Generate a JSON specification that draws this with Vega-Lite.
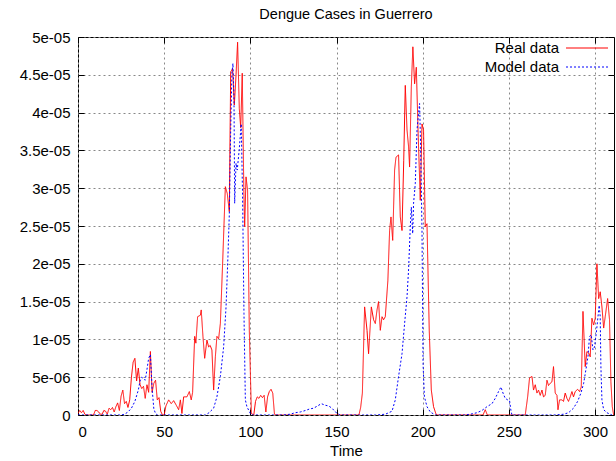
{
  "$schema": "https://vega.github.io/schema/vega-lite/v6.json",
  "width": 536,
  "height": 378,
  "autosize": {"type": "none"},
  "padding": {"left": 78, "top": 37, "right": 2, "bottom": 46},
  "background": "white",
  "title": {"text": "Dengue Cases in Guerrero", "font": "Liberation Sans", "fontSize": 14.5, "fontWeight": "normal", "color": "black", "anchor": "middle", "offset": 8},
  "config": {
    "view": {"stroke": "black", "strokeWidth": 1},
    "font": "Liberation Sans",
    "axis": {"labelFont": "Liberation Sans", "labelFontSize": 15, "labelColor": "black", "titleFont": "Liberation Sans", "titleFontSize": 15, "titleFontWeight": "normal", "titleColor": "black", "domain": false, "tickColor": "black", "tickSize": -6}
  },
  "data": {"values": [
    {"s":"Real data","t":0,"v":0.2e-6},{"s":"Real data","t":1,"v":0.6e-6},{"s":"Real data","t":2,"v":0.3e-6},{"s":"Real data","t":3,"v":0.6e-6},{"s":"Real data","t":4,"v":0.1e-6},{"s":"Real data","t":5,"v":0},{"s":"Real data","t":9,"v":0},{"s":"Real data","t":10,"v":0.6e-6},{"s":"Real data","t":11,"v":0.6e-6},{"s":"Real data","t":12,"v":0.4e-6},{"s":"Real data","t":13,"v":0.1e-6},{"s":"Real data","t":14,"v":0.1e-6},{"s":"Real data","t":15,"v":0.6e-6},{"s":"Real data","t":16,"v":0.5e-6},{"s":"Real data","t":17,"v":0.1e-6},{"s":"Real data","t":18,"v":0.9e-6},{"s":"Real data","t":19,"v":0.7e-6},{"s":"Real data","t":20,"v":1.0e-6},{"s":"Real data","t":21,"v":0.4e-6},{"s":"Real data","t":22,"v":1.1e-6},{"s":"Real data","t":23,"v":1.6e-6},{"s":"Real data","t":24,"v":0.6e-6},{"s":"Real data","t":25,"v":2.5e-6},{"s":"Real data","t":26,"v":3.3e-6},{"s":"Real data","t":27,"v":1.5e-6},{"s":"Real data","t":28,"v":1.8e-6},{"s":"Real data","t":29,"v":1.0e-6},{"s":"Real data","t":30,"v":2.0e-6},{"s":"Real data","t":31,"v":5.0e-6},{"s":"Real data","t":32,"v":7.0e-6},{"s":"Real data","t":33,"v":7.5e-6},{"s":"Real data","t":34,"v":4.5e-6},{"s":"Real data","t":35,"v":6.2e-6},{"s":"Real data","t":36,"v":4.0e-6},{"s":"Real data","t":37,"v":3.5e-6},{"s":"Real data","t":38,"v":3.8e-6},{"s":"Real data","t":39,"v":2.2e-6},{"s":"Real data","t":40,"v":4.0e-6},{"s":"Real data","t":41,"v":3.0e-6},{"s":"Real data","t":42,"v":8.4e-6},{"s":"Real data","t":43,"v":3.0e-6},{"s":"Real data","t":44,"v":4.2e-6},{"s":"Real data","t":45,"v":4.6e-6},{"s":"Real data","t":46,"v":2.0e-6},{"s":"Real data","t":47,"v":2.3e-6},{"s":"Real data","t":48,"v":0.5e-6},{"s":"Real data","t":49,"v":0},{"s":"Real data","t":50,"v":0},{"s":"Real data","t":51,"v":1.2e-6},{"s":"Real data","t":52.6,"v":2.0e-6},{"s":"Real data","t":54.1,"v":1.5e-6},{"s":"Real data","t":55.5,"v":1.9e-6},{"s":"Real data","t":57,"v":1.3e-6},{"s":"Real data","t":58.4,"v":0.7e-6},{"s":"Real data","t":59.4,"v":2.0e-6},{"s":"Real data","t":60.3,"v":0.2e-6},{"s":"Real data","t":61.3,"v":2.4e-6},{"s":"Real data","t":63.2,"v":2.4e-6},{"s":"Real data","t":64.6,"v":3.1e-6},{"s":"Real data","t":65.7,"v":2.0e-6},{"s":"Real data","t":66.5,"v":3.0e-6},{"s":"Real data","t":67.7,"v":10.4e-6},{"s":"Real data","t":68.4,"v":9.5e-6},{"s":"Real data","t":69.4,"v":13.0e-6},{"s":"Real data","t":71,"v":13.2e-6},{"s":"Real data","t":71.5,"v":13.9e-6},{"s":"Real data","t":72.5,"v":10.4e-6},{"s":"Real data","t":73.5,"v":7.5e-6},{"s":"Real data","t":74.8,"v":9.9e-6},{"s":"Real data","t":75.8,"v":9.0e-6},{"s":"Real data","t":76.7,"v":9.2e-6},{"s":"Real data","t":77.7,"v":8.6e-6},{"s":"Real data","t":78.7,"v":3.3e-6},{"s":"Real data","t":79.7,"v":7.7e-6},{"s":"Real data","t":80.6,"v":10.4e-6},{"s":"Real data","t":81.6,"v":10.1e-6},{"s":"Real data","t":82.6,"v":12.1e-6},{"s":"Real data","t":83.9,"v":20.0e-6},{"s":"Real data","t":85.5,"v":30.2e-6},{"s":"Real data","t":86.6,"v":29.3e-6},{"s":"Real data","t":87.8,"v":26.9e-6},{"s":"Real data","t":88.6,"v":45.4e-6},{"s":"Real data","t":89.7,"v":45.8e-6},{"s":"Real data","t":90.7,"v":41.0e-6},{"s":"Real data","t":91.7,"v":45.0e-6},{"s":"Real data","t":92.6,"v":49.3e-6},{"s":"Real data","t":93.6,"v":40.5e-6},{"s":"Real data","t":94.4,"v":38.0e-6},{"s":"Real data","t":95.3,"v":45.2e-6},{"s":"Real data","t":96.2,"v":30.0e-6},{"s":"Real data","t":96.7,"v":24.9e-6},{"s":"Real data","t":97.5,"v":31.5e-6},{"s":"Real data","t":98.4,"v":29.7e-6},{"s":"Real data","t":99.4,"v":11.2e-6},{"s":"Real data","t":100.6,"v":0.2e-6},{"s":"Real data","t":102,"v":0},{"s":"Real data","t":103,"v":1.8e-6},{"s":"Real data","t":104,"v":2.4e-6},{"s":"Real data","t":105,"v":2.2e-6},{"s":"Real data","t":106,"v":2.6e-6},{"s":"Real data","t":107,"v":2.3e-6},{"s":"Real data","t":108,"v":2.6e-6},{"s":"Real data","t":109,"v":0.4e-6},{"s":"Real data","t":110,"v":2.4e-6},{"s":"Real data","t":111,"v":3.1e-6},{"s":"Real data","t":112,"v":3.4e-6},{"s":"Real data","t":113,"v":2.9e-6},{"s":"Real data","t":114,"v":0.1e-6},{"s":"Real data","t":115,"v":0},{"s":"Real data","t":163,"v":0},{"s":"Real data","t":164,"v":1.0e-6},{"s":"Real data","t":165,"v":2.9e-6},{"s":"Real data","t":166.3,"v":14.3e-6},{"s":"Real data","t":167.7,"v":11.2e-6},{"s":"Real data","t":168.6,"v":8.1e-6},{"s":"Real data","t":170.2,"v":14.3e-6},{"s":"Real data","t":171.5,"v":12.6e-6},{"s":"Real data","t":172.5,"v":12.1e-6},{"s":"Real data","t":173.5,"v":13.9e-6},{"s":"Real data","t":174.4,"v":15.0e-6},{"s":"Real data","t":175.4,"v":11.2e-6},{"s":"Real data","t":176.4,"v":13.0e-6},{"s":"Real data","t":177.3,"v":12.6e-6},{"s":"Real data","t":178.3,"v":13.0e-6},{"s":"Real data","t":179.8,"v":17.8e-6},{"s":"Real data","t":180.8,"v":24.4e-6},{"s":"Real data","t":181.6,"v":26.2e-6},{"s":"Real data","t":182.6,"v":23.1e-6},{"s":"Real data","t":183.7,"v":32.4e-6},{"s":"Real data","t":184.5,"v":34.1e-6},{"s":"Real data","t":186,"v":34.4e-6},{"s":"Real data","t":187,"v":26.2e-6},{"s":"Real data","t":188,"v":24.4e-6},{"s":"Real data","t":189,"v":33.7e-6},{"s":"Real data","t":189.9,"v":43.6e-6},{"s":"Real data","t":190.9,"v":37.7e-6},{"s":"Real data","t":191.8,"v":35.5e-6},{"s":"Real data","t":192.4,"v":32.8e-6},{"s":"Real data","t":193.4,"v":43.4e-6},{"s":"Real data","t":194.3,"v":48.7e-6},{"s":"Real data","t":195.3,"v":43.8e-6},{"s":"Real data","t":196.3,"v":46.0e-6},{"s":"Real data","t":197.3,"v":37.7e-6},{"s":"Real data","t":198.6,"v":28.4e-6},{"s":"Real data","t":199.6,"v":38.5e-6},{"s":"Real data","t":200.5,"v":37.7e-6},{"s":"Real data","t":201.5,"v":24.9e-6},{"s":"Real data","t":202.5,"v":25.3e-6},{"s":"Real data","t":203.8,"v":11.2e-6},{"s":"Real data","t":205,"v":3.3e-6},{"s":"Real data","t":206.3,"v":1.1e-6},{"s":"Real data","t":207.9,"v":0},{"s":"Real data","t":235,"v":0},{"s":"Real data","t":236.3,"v":0.7e-6},{"s":"Real data","t":237.5,"v":0},{"s":"Real data","t":259.5,"v":0},{"s":"Real data","t":260.9,"v":2.4e-6},{"s":"Real data","t":262,"v":4.9e-6},{"s":"Real data","t":263.4,"v":5.1e-6},{"s":"Real data","t":264.3,"v":3.3e-6},{"s":"Real data","t":265.3,"v":4.0e-6},{"s":"Real data","t":266.3,"v":2.9e-6},{"s":"Real data","t":267.2,"v":3.3e-6},{"s":"Real data","t":268.2,"v":2.6e-6},{"s":"Real data","t":269.2,"v":3.3e-6},{"s":"Real data","t":270.1,"v":2.4e-6},{"s":"Real data","t":271.1,"v":2.6e-6},{"s":"Real data","t":272.1,"v":4.6e-6},{"s":"Real data","t":273,"v":3.9e-6},{"s":"Real data","t":274,"v":4.2e-6},{"s":"Real data","t":275,"v":4.4e-6},{"s":"Real data","t":275.9,"v":6.4e-6},{"s":"Real data","t":276.9,"v":2.9e-6},{"s":"Real data","t":277.9,"v":2.6e-6},{"s":"Real data","t":278.5,"v":0.7e-6},{"s":"Real data","t":279.4,"v":2.0e-6},{"s":"Real data","t":280.8,"v":2.0e-6},{"s":"Real data","t":281.7,"v":1.8e-6},{"s":"Real data","t":282.7,"v":2.9e-6},{"s":"Real data","t":283.7,"v":2.2e-6},{"s":"Real data","t":284.6,"v":1.8e-6},{"s":"Real data","t":285.6,"v":2.4e-6},{"s":"Real data","t":286.6,"v":3.1e-6},{"s":"Real data","t":287.5,"v":2.4e-6},{"s":"Real data","t":288.5,"v":3.1e-6},{"s":"Real data","t":289.9,"v":3.4e-6},{"s":"Real data","t":291,"v":3.1e-6},{"s":"Real data","t":292,"v":3.7e-6},{"s":"Real data","t":293,"v":13.7e-6},{"s":"Real data","t":294.3,"v":6.4e-6},{"s":"Real data","t":295.3,"v":8.4e-6},{"s":"Real data","t":296.3,"v":8.2e-6},{"s":"Real data","t":297.2,"v":7.7e-6},{"s":"Real data","t":298.2,"v":12.8e-6},{"s":"Real data","t":299.2,"v":11.9e-6},{"s":"Real data","t":300.1,"v":12.8e-6},{"s":"Real data","t":301.1,"v":20.0e-6},{"s":"Real data","t":302.1,"v":15.4e-6},{"s":"Real data","t":303,"v":16.3e-6},{"s":"Real data","t":304,"v":14.3e-6},{"s":"Real data","t":305,"v":11.5e-6},{"s":"Real data","t":305.9,"v":13.0e-6},{"s":"Real data","t":307.3,"v":15.4e-6},{"s":"Real data","t":308.4,"v":12.6e-6},{"s":"Real data","t":309.2,"v":4.4e-6},{"s":"Real data","t":310,"v":1.1e-6},{"s":"Real data","t":310.8,"v":0},
    {"s":"Model data","t":0,"v":0},{"s":"Model data","t":25,"v":0},{"s":"Model data","t":27,"v":0.1e-6},{"s":"Model data","t":29,"v":0.4e-6},{"s":"Model data","t":31,"v":0.9e-6},{"s":"Model data","t":33,"v":1.8e-6},{"s":"Model data","t":35,"v":3.3e-6},{"s":"Model data","t":36,"v":4.5e-6},{"s":"Model data","t":37,"v":5.0e-6},{"s":"Model data","t":38,"v":4.8e-6},{"s":"Model data","t":39,"v":4.6e-6},{"s":"Model data","t":40,"v":6.0e-6},{"s":"Model data","t":41,"v":7.5e-6},{"s":"Model data","t":42,"v":8.0e-6},{"s":"Model data","t":43,"v":3.5e-6},{"s":"Model data","t":44,"v":0.8e-6},{"s":"Model data","t":45,"v":0.2e-6},{"s":"Model data","t":46,"v":0},{"s":"Model data","t":74,"v":0},{"s":"Model data","t":76,"v":0.3e-6},{"s":"Model data","t":78.7,"v":0.9e-6},{"s":"Model data","t":80.6,"v":2.4e-6},{"s":"Model data","t":82.6,"v":5.1e-6},{"s":"Model data","t":84.5,"v":9.0e-6},{"s":"Model data","t":85.9,"v":14.3e-6},{"s":"Model data","t":87,"v":21.0e-6},{"s":"Model data","t":87.8,"v":26.6e-6},{"s":"Model data","t":88.6,"v":37.7e-6},{"s":"Model data","t":89.3,"v":45.2e-6},{"s":"Model data","t":89.9,"v":46.5e-6},{"s":"Model data","t":90.5,"v":42.1e-6},{"s":"Model data","t":90.9,"v":28.0e-6},{"s":"Model data","t":91.7,"v":33.3e-6},{"s":"Model data","t":92.4,"v":32.4e-6},{"s":"Model data","t":93.5,"v":35.0e-6},{"s":"Model data","t":94.7,"v":38.5e-6},{"s":"Model data","t":95.5,"v":28.9e-6},{"s":"Model data","t":96.3,"v":13.4e-6},{"s":"Model data","t":97.1,"v":2.0e-6},{"s":"Model data","t":98,"v":1.1e-6},{"s":"Model data","t":100,"v":0.2e-6},{"s":"Model data","t":101,"v":0},{"s":"Model data","t":119,"v":0},{"s":"Model data","t":123,"v":0.1e-6},{"s":"Model data","t":126,"v":0.3e-6},{"s":"Model data","t":129,"v":0.4e-6},{"s":"Model data","t":132,"v":0.6e-6},{"s":"Model data","t":134.4,"v":0.8e-6},{"s":"Model data","t":136.7,"v":0.9e-6},{"s":"Model data","t":139,"v":1.2e-6},{"s":"Model data","t":141.2,"v":1.5e-6},{"s":"Model data","t":143.3,"v":1.3e-6},{"s":"Model data","t":145.4,"v":1.2e-6},{"s":"Model data","t":147.4,"v":0.9e-6},{"s":"Model data","t":149.3,"v":0.4e-6},{"s":"Model data","t":150.7,"v":0.2e-6},{"s":"Model data","t":152,"v":0},{"s":"Model data","t":172.5,"v":0},{"s":"Model data","t":178.3,"v":0.1e-6},{"s":"Model data","t":182.2,"v":0.5e-6},{"s":"Model data","t":184.1,"v":2.0e-6},{"s":"Model data","t":186,"v":5.1e-6},{"s":"Model data","t":188,"v":8.1e-6},{"s":"Model data","t":189.5,"v":12.1e-6},{"s":"Model data","t":190.9,"v":15.6e-6},{"s":"Model data","t":191.8,"v":19.2e-6},{"s":"Model data","t":192.8,"v":24.9e-6},{"s":"Model data","t":193.4,"v":27.5e-6},{"s":"Model data","t":194.2,"v":24.0e-6},{"s":"Model data","t":194.7,"v":28.0e-6},{"s":"Model data","t":195.7,"v":30.6e-6},{"s":"Model data","t":196.7,"v":37.7e-6},{"s":"Model data","t":197.6,"v":39.9e-6},{"s":"Model data","t":198.2,"v":41.2e-6},{"s":"Model data","t":198.8,"v":35.5e-6},{"s":"Model data","t":199.6,"v":24.4e-6},{"s":"Model data","t":200.2,"v":6.8e-6},{"s":"Model data","t":201,"v":2.4e-6},{"s":"Model data","t":202.5,"v":1.1e-6},{"s":"Model data","t":204.4,"v":0.4e-6},{"s":"Model data","t":207.3,"v":0},{"s":"Model data","t":224,"v":0},{"s":"Model data","t":227.6,"v":0.1e-6},{"s":"Model data","t":231.5,"v":0.3e-6},{"s":"Model data","t":234.4,"v":0.6e-6},{"s":"Model data","t":237.3,"v":1.1e-6},{"s":"Model data","t":240.2,"v":1.5e-6},{"s":"Model data","t":242.1,"v":2.2e-6},{"s":"Model data","t":244,"v":3.1e-6},{"s":"Model data","t":245.4,"v":3.7e-6},{"s":"Model data","t":246.6,"v":2.9e-6},{"s":"Model data","t":247.9,"v":2.2e-6},{"s":"Model data","t":249.3,"v":2.0e-6},{"s":"Model data","t":250.4,"v":1.9e-6},{"s":"Model data","t":251.2,"v":0.6e-6},{"s":"Model data","t":251.8,"v":0},{"s":"Model data","t":276,"v":0},{"s":"Model data","t":281.7,"v":0.1e-6},{"s":"Model data","t":284.6,"v":0.3e-6},{"s":"Model data","t":287.5,"v":0.9e-6},{"s":"Model data","t":289.9,"v":1.8e-6},{"s":"Model data","t":291.8,"v":2.9e-6},{"s":"Model data","t":293.4,"v":4.2e-6},{"s":"Model data","t":294.7,"v":6.0e-6},{"s":"Model data","t":295.9,"v":7.7e-6},{"s":"Model data","t":296.8,"v":10.4e-6},{"s":"Model data","t":297.8,"v":10.6e-6},{"s":"Model data","t":298.8,"v":8.6e-6},{"s":"Model data","t":299.7,"v":9.0e-6},{"s":"Model data","t":300.7,"v":10.8e-6},{"s":"Model data","t":301.7,"v":13.0e-6},{"s":"Model data","t":302.4,"v":14.5e-6},{"s":"Model data","t":303,"v":13.0e-6},{"s":"Model data","t":303.4,"v":6.4e-6},{"s":"Model data","t":304,"v":2.0e-6},{"s":"Model data","t":305,"v":0.7e-6},{"s":"Model data","t":306.9,"v":0.3e-6},{"s":"Model data","t":309.8,"v":0}
  ]},
  "layer": [
    {
      "mark": {"type": "line", "strokeWidth": 1, "clip": true},
      "encoding": {
        "x": {"field": "t", "type": "quantitative", "scale": {"domain": [0, 311], "nice": false, "zero": false},
              "axis": {"title": "Time", "values": [0, 50, 100, 150, 200, 250, 300], "grid": true, "gridColor": "#888888", "gridDash": [2, 3], "gridWidth": 1, "labelPadding": 15, "titlePadding": 4}},
        "y": {"field": "v", "type": "quantitative", "scale": {"domain": [0, 0.00005], "nice": false},
              "axis": {"title": null, "values": [0, 0.000005, 0.00001, 0.000015, 0.00002, 0.000025, 0.00003, 0.000035, 0.00004, 0.000045, 0.00005], "grid": true, "gridColor": "#888888", "gridDash": [2, 3], "gridWidth": 1, "labelPadding": 14,
                       "labelExpr": "['0','5e-06','1e-05','1.5e-05','2e-05','2.5e-05','3e-05','3.5e-05','4e-05','4.5e-05','5e-05'][round(datum.value*200000)]"}},
        "color": {"field": "s", "type": "nominal", "scale": {"domain": ["Real data", "Model data"], "range": ["#ff0000", "#0000ff"]},
                  "legend": {"title": null, "orient": "none", "legendX": 498, "legendY": 0, "symbolType": "M-2,0H2", "symbolSize": 441, "symbolStrokeWidth": 1, "symbolFillColor": "transparent", "labelFont": "Liberation Sans", "labelFontSize": 15, "labelColor": "black", "labelAlign": "right", "labelOffset": -39, "rowPadding": -2}},
        "strokeDash": {"field": "s", "type": "nominal", "scale": {"domain": ["Real data", "Model data"], "range": [[1, 0], [2, 2]]},
                  "legend": {"title": null, "orient": "none", "legendX": 498, "legendY": 0, "symbolType": "M-2,0H2", "symbolSize": 441, "symbolStrokeWidth": 1, "symbolFillColor": "transparent", "labelFont": "Liberation Sans", "labelFontSize": 15, "labelColor": "black", "labelAlign": "right", "labelOffset": -39, "rowPadding": -2}}
      }
    },
    {
      "mark": {"type": "point", "opacity": 0},
      "encoding": {
        "x": {"field": "t", "type": "quantitative", "axis": {"orient": "top", "title": null, "labels": false, "grid": false, "values": [0, 50, 100, 150, 200, 250, 300]}},
        "y": {"field": "v", "type": "quantitative", "axis": {"orient": "right", "title": null, "labels": false, "grid": false, "values": [0, 0.000005, 0.00001, 0.000015, 0.00002, 0.000025, 0.00003, 0.000035, 0.00004, 0.000045, 0.00005]}}
      }
    }
  ],
  "resolve": {"axis": {"x": "independent", "y": "independent"}}
}
